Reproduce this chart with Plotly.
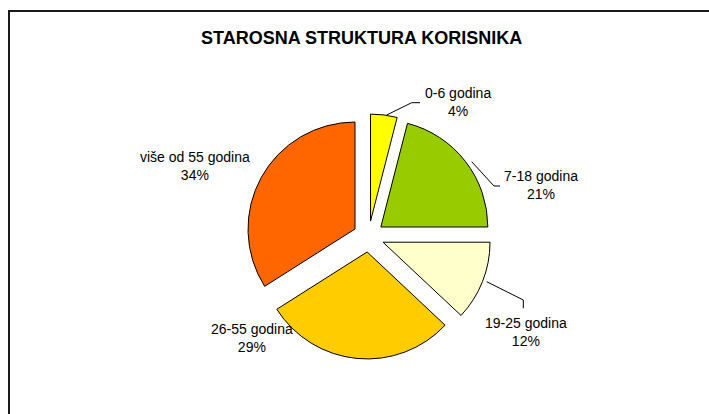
import plotly.graph_objects as go

# ---- data ----
categories = ["0-6 godina", "7-18 godina", "19-25 godina", "26-55 godina", "više od 55 godina"]
values = [4, 21, 12, 29, 34]
colors = ["#FFFF00", "#99CC00", "#FFFFCC", "#FFCC00", "#FF6600"]
title_text = "STAROSNA STRUKTURA KORISNIKA"

# ---- layout constants (pixels) ----
W, H = 709, 414
CX, CY = 368.6, 236.5      # pie centre
R = 107                    # pie radius
PULL = 0.145               # explosion as fraction of radius

# label centres (px) for each category, same order as categories
label_pos = [(458, 102), (541, 185), (526, 332), (252, 338), (195, 166)]
# leader lines (px) for some labels
leaders = [
    [(386.7, 115), (411.7, 102.7), (420, 102.7)],
    [(471.7, 161.7), (494, 186), (500, 186)],
    [(486.7, 281.7), (523.3, 300), (523.3, 308.3)],
]


def px(x):
    return x / W


def py(y):
    return 1 - y / H


half = R * (1 + PULL)
total = sum(values)

fig = go.Figure(
    go.Pie(
        labels=categories,
        values=values,
        sort=False,
        direction="clockwise",
        rotation=0,
        pull=[PULL] * len(values),
        marker=dict(colors=colors, line=dict(color="#000000", width=1)),
        textinfo="none",
        hoverinfo="label+percent",
        showlegend=False,
        domain=dict(x=[px(CX - half - 40), px(CX + half + 40)],
                    y=[py(CY + half), py(CY - half)]),
    )
)

annotations = []
for cat, v, (lx, ly) in zip(categories, values, label_pos):
    pct = round(v / total * 100)
    annotations.append(dict(
        x=px(lx), y=py(ly), xref="paper", yref="paper",
        text=f"{cat}<br>{pct}%", showarrow=False,
        xanchor="center", yanchor="middle", align="center",
        font=dict(family="Arial", size=14, color="#000000"),
    ))

annotations.append(dict(
    x=px(361.5), y=py(38), xref="paper", yref="paper",
    text=f"<b>{title_text}</b>", showarrow=False,
    xanchor="center", yanchor="middle",
    font=dict(family="Arial", size=18, color="#000000"),
))

shapes = []
for pts in leaders:
    path = "M " + " L ".join(f"{px(x)},{py(y)}" for x, y in pts)
    shapes.append(dict(type="path", path=path, xref="paper", yref="paper",
                       line=dict(color="#000000", width=1)))

# chart frame (cut off at the right and bottom)
shapes.append(dict(type="rect", xref="paper", yref="paper",
                   x0=px(9), y0=py(440), x1=px(730), y1=py(11),
                   line=dict(color="#1a1a1a", width=2), fillcolor="rgba(0,0,0,0)"))

fig.update_layout(
    width=W, height=H,
    margin=dict(l=0, r=0, t=0, b=0),
    paper_bgcolor="#FFFFFF",
    plot_bgcolor="#FFFFFF",
    annotations=annotations,
    shapes=shapes,
)

fig.write_html(
    "out.html",
    config={"displayModeBar": False},
    post_script="document.body.style.margin='0';document.body.style.overflow='hidden';",
)
